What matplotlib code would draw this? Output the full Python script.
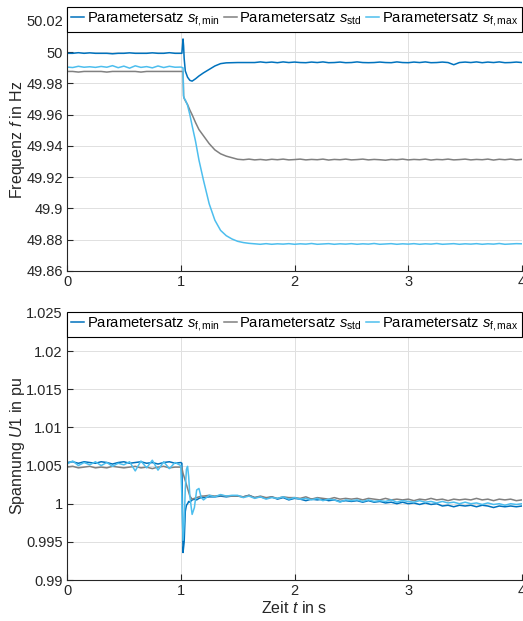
import numpy as np
import matplotlib
matplotlib.use("Agg")
import matplotlib.pyplot as plt
from matplotlib.ticker import FuncFormatter

plt.rcParams['font.family'] = ['Liberation Sans', 'DejaVu Sans']
plt.rcParams['mathtext.fontset'] = 'custom'
plt.rcParams['mathtext.rm'] = 'Liberation Sans'
plt.rcParams['mathtext.it'] = 'Liberation Sans:italic'
plt.rcParams['mathtext.bf'] = 'Liberation Sans:bold'

# --- colours (MATLAB default-like) ---
c_min = '#0072BD'
c_std = '#808080'
c_max = '#4DBEEE'
labels = [r'Parametersatz $s_{\mathrm{f,min}}$',
          r'Parametersatz $s_{\mathrm{std}}$',
          r'Parametersatz $s_{\mathrm{f,max}}$']

# --- time grids ---
t_pre = [0.00, 0.05, 0.10, 0.15, 0.20, 0.25, 0.30, 0.35, 0.40, 0.45,
         0.50, 0.55, 0.60, 0.65, 0.70, 0.75, 0.80, 0.85, 0.90, 0.95]
t_post = [1.50, 1.55, 1.60, 1.65, 1.70, 1.75, 1.80, 1.85, 1.90, 1.95,
          2.00, 2.05, 2.10, 2.15, 2.20, 2.25, 2.30, 2.35, 2.40, 2.45,
          2.50, 2.55, 2.60, 2.65, 2.70, 2.75, 2.80, 2.85, 2.90, 2.95,
          3.00, 3.05, 3.10, 3.15, 3.20, 3.25, 3.30, 3.35, 3.40, 3.45,
          3.50, 3.55, 3.60, 3.65, 3.70, 3.75, 3.80, 3.85, 3.90, 3.95,
          4.00]
t_f_trans = [1.00, 1.01, 1.02, 1.025, 1.03, 1.04, 1.06, 1.08, 1.10, 1.13,
             1.16, 1.20, 1.25, 1.30, 1.35, 1.40, 1.45]
t_u_trans = [1.00, 1.01, 1.02, 1.03, 1.04, 1.05, 1.06, 1.07, 1.08, 1.10,
             1.12, 1.14, 1.16, 1.18, 1.20, 1.25, 1.30, 1.35, 1.40, 1.45]

# --- frequency in Hz ---
f_min_pre = [49.9993, 49.9993, 49.9997, 49.9993, 49.9996, 49.9993, 49.9993, 49.9993, 49.9990, 49.9993,
             49.9993, 49.9996, 49.9993, 49.9993, 49.9993, 49.9996, 49.9993, 49.9993, 49.9997, 49.9993]
f_std_pre = [49.9877, 49.9877, 49.9873, 49.9877, 49.9877, 49.9877, 49.9877, 49.9873, 49.9877, 49.9877,
             49.9877, 49.9877, 49.9877, 49.9873, 49.9877, 49.9877, 49.9877, 49.9877, 49.9877, 49.9877]
f_max_pre = [49.9905, 49.9902, 49.9910, 49.9904, 49.9907, 49.9903, 49.9909, 49.9904, 49.9914, 49.9901,
             49.9911, 49.9898, 49.9913, 49.9903, 49.9908, 49.9900, 49.9912, 49.9902, 49.9910, 49.9904]

f_min_trans = [49.9993, 49.9993, 50.0085, 50.0040, 49.9960, 49.9880, 49.9840, 49.9820, 49.9815, 49.9830,
               49.9848, 49.9868, 49.9890, 49.9912, 49.9927, 49.9932, 49.9933]
f_std_trans = [49.9877, 49.9877, 49.9875, 49.9720, 49.9705, 49.9690, 49.9665, 49.9630, 49.9600, 49.9550,
               49.9505, 49.9465, 49.9415, 49.9375, 49.9350, 49.9335, 49.9325]
f_max_trans = [49.9905, 49.9903, 49.9900, 49.9720, 49.9705, 49.9695, 49.9660, 49.9600, 49.9530, 49.9430,
               49.9310, 49.9180, 49.9030, 49.8925, 49.8860, 49.8826, 49.8805]

f_min_post = [49.9934, 49.9934, 49.9934, 49.9934, 49.9938, 49.9934, 49.9937, 49.9933, 49.9938, 49.9934,
              49.9937, 49.9934, 49.9933, 49.9937, 49.9934, 49.9938, 49.9933, 49.9934, 49.9937, 49.9933,
              49.9934, 49.9938, 49.9934, 49.9933, 49.9934, 49.9937, 49.9934, 49.9933, 49.9938, 49.9934,
              49.9933, 49.9937, 49.9934, 49.9938, 49.9933, 49.9934, 49.9937, 49.9934, 49.9920, 49.9934,
              49.9937, 49.9934, 49.9938, 49.9933, 49.9937, 49.9934, 49.9938, 49.9933, 49.9934, 49.9937,
              49.9934]
f_std_post = [49.9315, 49.9312, 49.9316, 49.9311, 49.9314, 49.9310, 49.9315, 49.9312, 49.9316, 49.9311,
              49.9313, 49.9316, 49.9311, 49.9314, 49.9312, 49.9316, 49.9310, 49.9314, 49.9312, 49.9316,
              49.9311, 49.9313, 49.9316, 49.9311, 49.9314, 49.9312, 49.9309, 49.9314, 49.9312, 49.9316,
              49.9311, 49.9314, 49.9312, 49.9316, 49.9310, 49.9314, 49.9312, 49.9316, 49.9311, 49.9313,
              49.9316, 49.9311, 49.9314, 49.9312, 49.9316, 49.9310, 49.9315, 49.9312, 49.9316, 49.9311,
              49.9314]
f_max_post = [49.8790, 49.8782, 49.8777, 49.8774, 49.8771, 49.8775, 49.8771, 49.8774, 49.8772, 49.8775,
              49.8771, 49.8774, 49.8772, 49.8776, 49.8771, 49.8773, 49.8775, 49.8771, 49.8774, 49.8772,
              49.8775, 49.8771, 49.8774, 49.8772, 49.8776, 49.8771, 49.8773, 49.8775, 49.8771, 49.8774,
              49.8772, 49.8775, 49.8771, 49.8774, 49.8772, 49.8776, 49.8771, 49.8773, 49.8775, 49.8771,
              49.8774, 49.8772, 49.8775, 49.8771, 49.8774, 49.8772, 49.8776, 49.8771, 49.8773, 49.8775,
              49.8774]

# --- voltage U1 in pu ---
u_min_pre = [1.0054, 1.0055, 1.0053, 1.0055, 1.0054, 1.0053, 1.0055, 1.0054, 1.0052, 1.0054,
             1.0055, 1.0053, 1.0054, 1.0055, 1.0053, 1.0054, 1.0052, 1.0054, 1.0055, 1.0053]
u_std_pre = [1.0048, 1.0049, 1.0047, 1.0048, 1.0049, 1.0047, 1.0048, 1.0047, 1.0049, 1.0048,
             1.0047, 1.0048, 1.0049, 1.0047, 1.0048, 1.0046, 1.0048, 1.0049, 1.0047, 1.0048]
u_max_pre = [1.0052, 1.0056, 1.0050, 1.0054, 1.0051, 1.0055, 1.0050, 1.0054, 1.0049, 1.0053,
             1.0051, 1.0055, 1.0043, 1.0056, 1.0047, 1.0057, 1.0044, 1.0055, 1.0046, 1.0054]

u_min_trans = [1.0054, 1.0053, 0.9936, 0.9950, 0.9990, 0.9998, 1.0000, 1.0003, 1.0002, 1.0005,
               1.0006, 1.0005, 1.0007, 1.0008, 1.0008, 1.0009, 1.0009, 1.0010, 1.0009, 1.0010]
u_std_trans = [1.0048, 1.0047, 1.0040, 1.0035, 1.0030, 1.0025, 1.0020, 1.0015, 1.0010, 1.0006,
               1.0007, 1.0008, 1.0009, 1.0010, 1.0010, 1.0011, 1.0010, 1.0011, 1.0010, 1.0010]
u_max_trans = [1.0050, 1.0010, 0.9952, 0.9975, 1.0020, 1.0045, 1.0049, 1.0035, 1.0010, 0.9986,
               0.9995, 1.0018, 1.0020, 1.0008, 1.0005, 1.0011, 1.0009, 1.0012, 1.0010, 1.0011]

u_min_post = [1.0010, 1.0009, 1.0011, 1.0008, 1.0009, 1.0007, 1.0009, 1.0006, 1.0008, 1.0005,
              1.0007, 1.0006, 1.0004, 1.0006, 1.0005, 1.0006, 1.0004, 1.0005, 1.0003, 1.0004,
              1.0003, 1.0004, 1.0002, 1.0004, 1.0002, 1.0003, 1.0001, 1.0002, 1.0000, 1.0002,
              1.0000, 1.0001, 0.9999, 1.0001, 0.9999, 1.0000, 0.9997, 0.9998, 0.9996, 0.9998,
              0.9997, 0.9998, 0.9996, 0.9998, 0.9997, 0.9995, 0.9997, 0.9996, 0.9997, 0.9996,
              0.9997]
u_std_post = [1.0010, 1.0009, 1.0011, 1.0008, 1.0010, 1.0008, 1.0009, 1.0007, 1.0009, 1.0008,
              1.0008, 1.0007, 1.0009, 1.0006, 1.0008, 1.0007, 1.0006, 1.0008, 1.0006, 1.0007,
              1.0006, 1.0007, 1.0005, 1.0007, 1.0006, 1.0005, 1.0007, 1.0005, 1.0006, 1.0005,
              1.0006, 1.0004, 1.0006, 1.0005, 1.0007, 1.0005, 1.0006, 1.0004, 1.0006, 1.0005,
              1.0006, 1.0005, 1.0007, 1.0005, 1.0006, 1.0004, 1.0006, 1.0005, 1.0006, 1.0004,
              1.0005]
u_max_post = [1.0011, 1.0008, 1.0010, 1.0007, 1.0009, 1.0006, 1.0008, 1.0007, 1.0009, 1.0006,
              1.0008, 1.0006, 1.0007, 1.0005, 1.0007, 1.0004, 1.0006, 1.0005, 1.0002, 1.0005,
              1.0004, 1.0005, 1.0003, 1.0005, 1.0003, 1.0004, 1.0003, 1.0005, 1.0002, 1.0004,
              1.0003, 1.0002, 1.0004, 1.0002, 1.0003, 1.0001, 1.0003, 1.0001, 1.0002, 1.0000,
              1.0002, 1.0000, 1.0001, 0.9999, 1.0001, 0.9999, 1.0000, 0.9998, 1.0000, 0.9999,
              1.0000]

t_f = t_pre + t_f_trans + t_post
t_u = t_pre + t_u_trans + t_post
f_series = [f_min_pre + f_min_trans + f_min_post,
            f_std_pre + f_std_trans + f_std_post,
            f_max_pre + f_max_trans + f_max_post]
u_series = [u_min_pre + u_min_trans + u_min_post,
            u_std_pre + u_std_trans + u_std_post,
            u_max_pre + u_max_trans + u_max_post]
colors = [c_min, c_std, c_max]

W, H = 523, 621
fig = plt.figure(figsize=(W / 100, H / 100), dpi=100)
ax1 = fig.add_axes([67 / W, 1 - 271 / H, 455 / W, 263 / H])
ax2 = fig.add_axes([67 / W, 1 - 580 / H, 455 / W, 267 / H])

fmt = FuncFormatter(lambda v, p: '%g' % round(v, 4))
dark = '#262626'

for ax, t, series in [(ax1, t_f, f_series), (ax2, t_u, u_series)]:
    for y, c, lab in zip(series, colors, labels):
        ax.plot(t, y, color=c, lw=1.1, label=lab)
    ax.set_xlim(0, 4)
    ax.set_xticks([0, 1, 2, 3, 4])
    ax.yaxis.set_major_formatter(fmt)
    ax.grid(True, color='#E0E0E0', lw=0.7)
    ax.set_axisbelow(True)
    for s in ['top', 'right']:
        ax.spines[s].set_visible(False)
    for s in ['left', 'bottom']:
        ax.spines[s].set_color(dark)
        ax.spines[s].set_linewidth(0.8)
    ax.tick_params(direction='in', length=4, width=0.8, colors=dark,
                   labelsize=10.5, pad=3)
    leg = ax.legend(loc='upper center', bbox_to_anchor=(0.5, 1.005), ncol=3,
                    fontsize=10.6, handlelength=0.9, handletextpad=0.15,
                    columnspacing=0.3, borderpad=0.25, borderaxespad=0.0,
                    fancybox=False, framealpha=1, edgecolor='black')
    leg.get_frame().set_linewidth(0.8)

ax1.set_ylim(49.86, 50.0283)
ax1.set_yticks(np.arange(49.86, 50.021, 0.02))
ax1.set_ylabel('Frequenz $f$ in Hz', fontsize=11.5, color=dark, labelpad=-1)

ax2.set_ylim(0.99, 1.025)
ax2.set_yticks(np.arange(0.99, 1.0251, 0.005))
ax2.set_ylabel(r'Spannung $\mathit{U1}$ in pu', fontsize=11.5, color=dark, labelpad=-1)
ax2.set_xlabel('Zeit $t$ in s', fontsize=11.5, color=dark, labelpad=1)

fig.savefig('out.png', dpi=100)
